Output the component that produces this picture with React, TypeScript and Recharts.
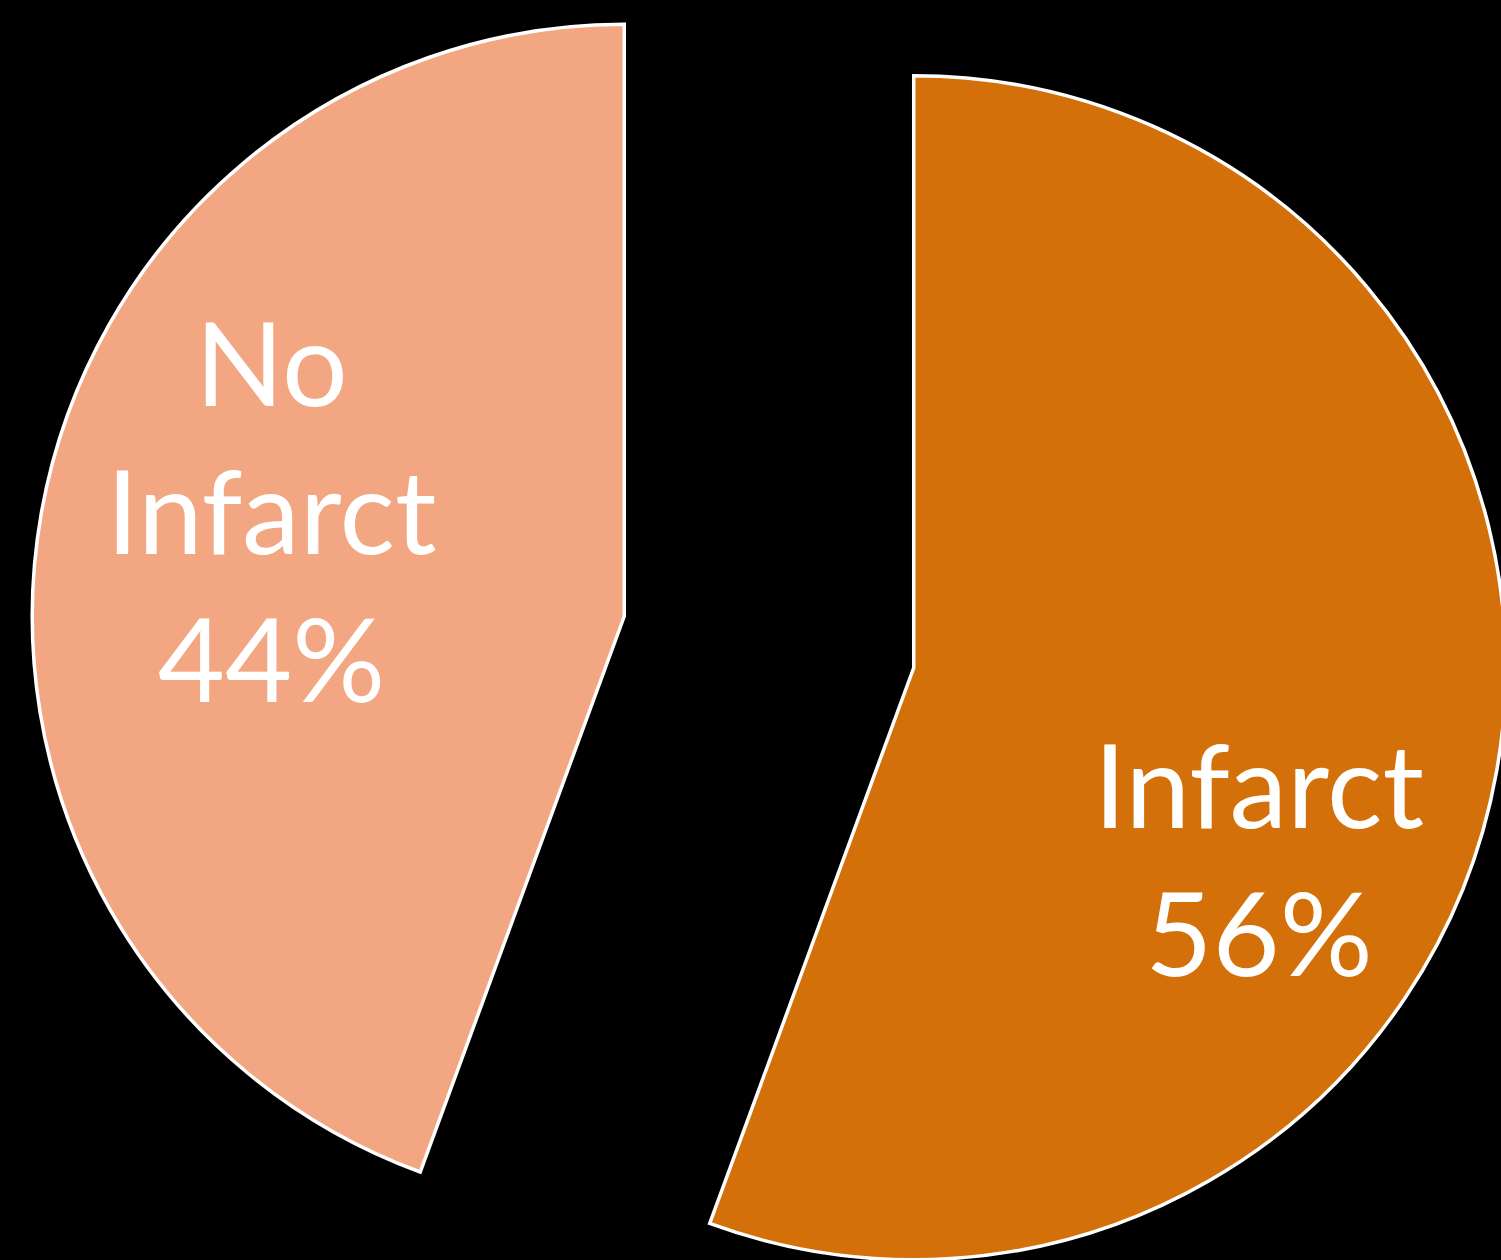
import { PieChart, Pie, Cell } from 'recharts';

const categories = ['Infarct', 'No Infarct'];
const shares = [55.6, 44.4];
const colors = ['#D3700A', '#F2A682'];

const data = categories.map((name, i) => ({ name, value: shares[i] }));

const W = 1501;
const H = 1260;
const CX = 769;
const CY = 642;
const RADIUS = 592;
const EXPLODE = 147;
const RAD = Math.PI / 180;

// where each label block sits, relative to its own (exploded) slice centre
const LABEL_SPOTS = [
  { angle: -29.5, r: 0.67 },
  { angle: 164, r: 0.62 },
];
const LINE_H = 148;

// mid angle of each slice, clockwise from 12 o'clock (recharts degrees)
const total = shares.reduce((a, b) => a + b, 0);
let acc = 0;
const mids = shares.map((v) => {
  const start = 90 - (acc / total) * 360;
  acc += v;
  const end = 90 - (acc / total) * 360;
  return (start + end) / 2;
});

function renderLabel(props: any, i: number) {
  if (props.index !== i) return null;
  const spot = LABEL_SPOTS[i];
  const r = props.outerRadius * spot.r;
  const x = props.cx + r * Math.cos(spot.angle * RAD);
  const y = props.cy - r * Math.sin(spot.angle * RAD);
  const lines = [...categories[i].split(' '), `${Math.round(props.percent * 100)}%`];
  const first = y - ((lines.length - 1) * LINE_H) / 2 + 39;
  return (
    <text
      x={x}
      y={first}
      textAnchor="middle"
      fill="#ffffff"
      fontFamily="Lato, 'Open Sans', sans-serif"
      fontSize={116}
    >
      {lines.map((t, k) => (
        <tspan key={k} x={x} dy={k === 0 ? 0 : LINE_H}>
          {t}
        </tspan>
      ))}
    </text>
  );
}

export default function App() {
  return (
    <div style={{ width: W, height: H, background: '#000' }}>
      <style>{'body{margin:0;background:#000}'}</style>
      <PieChart width={W} height={H} margin={{ top: 0, right: 0, bottom: 0, left: 0 }}>
        {data.map((_, i) => (
          <Pie
            key={i}
            data={data}
            dataKey="value"
            nameKey="name"
            cx={CX + EXPLODE * Math.cos(mids[i] * RAD)}
            cy={CY - EXPLODE * Math.sin(mids[i] * RAD)}
            outerRadius={RADIUS}
            startAngle={90}
            endAngle={-270}
            labelLine={false}
            label={(p: any) => renderLabel(p, i)}
            isAnimationActive={false}
          >
            {data.map((__, j) => (
              <Cell
                key={j}
                fill={j === i ? colors[j] : 'transparent'}
                stroke={j === i ? '#ffffff' : 'none'}
                strokeWidth={3.5}
              />
            ))}
          </Pie>
        ))}
      </PieChart>
    </div>
  );
}
